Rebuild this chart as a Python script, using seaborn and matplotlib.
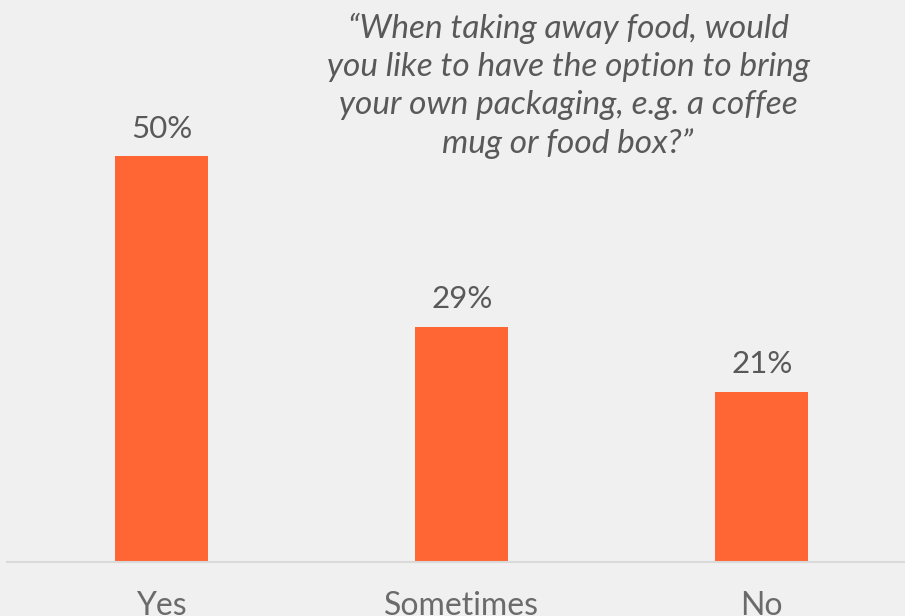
import matplotlib
matplotlib.use("Agg")
import matplotlib.pyplot as plt
import seaborn as sns
import pandas as pd

categories = ["Yes", "Sometimes", "No"]
values = [50, 29, 21]
value_labels = ["50%", "29%", "21%"]
title_text = ("\u201cWhen taking away food, would\n"
              "you like to have the option to bring\n"
              "your own packaging, e.g. a coffee\n"
              "mug or food box?\u201d")

sns.set_style("white")
plt.rcParams['font.family'] = ['Lato', 'DejaVu Sans']

bg = "#f0f0f0"
fig = plt.figure(figsize=(9.05, 6.16), dpi=100, facecolor=bg)
W, H = 905, 616
base_y = 562
ax = fig.add_axes([7 / W, (H - base_y) / H, 1 - 7 / W, 487 / H])
ax.set_facecolor(bg)

df = pd.DataFrame({"cat": categories, "val": values})
sns.barplot(data=df, x="cat", y="val", color="#FF6633", width=0.31,
            saturation=1, linewidth=0, ax=ax)

ax.set_xlim(-0.515, 2.477)
ax.set_ylim(0, 60)
for i, (v, lab) in enumerate(zip(values, value_labels)):
    ax.annotate(lab, (i, v), xytext=(0, 9.5), textcoords="offset points",
                ha="center", va="bottom", fontsize=22.5, color="#595959")

for s in ["top", "right", "left"]:
    ax.spines[s].set_visible(False)
ax.spines["bottom"].set_color("#d9d9d9")
ax.spines["bottom"].set_linewidth(1.5)
ax.set_yticks([])
ax.set_xlabel("")
ax.set_ylabel("")
ax.tick_params(axis="x", length=0, pad=21, labelsize=23, labelcolor="#6b6b6b")

fig.text(568 / W, 1 - 13 / H, title_text, ha="center", va="top",
         fontsize=24, style="italic", color="#595959", linespacing=1.33)

fig.savefig("out.png", dpi=100, facecolor=bg)
